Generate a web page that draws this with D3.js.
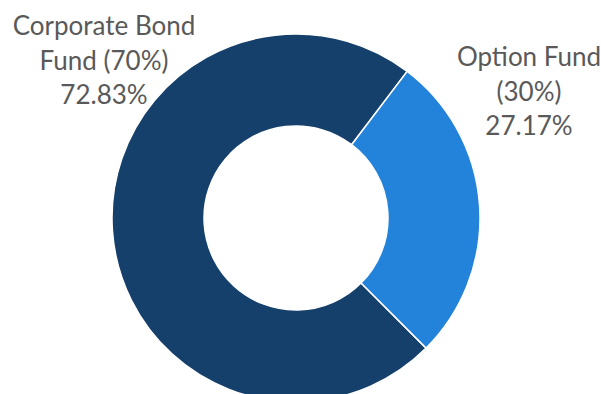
<!DOCTYPE html>
<html>
<head>
<meta charset="utf-8">
<script src="https://cdn.jsdelivr.net/npm/d3@7"></script>
<style>
  body { margin: 0; background: #fff; }
  .lbl { font-family: Lato, "Open Sans", sans-serif; fill: #595959; }
</style>
</head>
<body>
<div id="chart"></div>
<script>
// data
var categories = ["Corporate Bond Fund (70%)", "Option Fund (30%)"];
var shares = [72.83, 27.17];
var labelLines = [
  ["Corporate Bond", "Fund (70%)", "72.83%"],
  ["Option Fund", "(30%)", "27.17%"]
];
var colors = ["#15406b", "#2383da"];

var svgWidth = 601;
var svgHeight = 394;

var cx = 296, cy = 218;
var outerR = 184, innerR = 92;

// label anchor points (center x, first baseline y)
var labelPos = [[104, 35], [529, 66]];
var lineStep = 34.5;

var svg = d3.select("#chart")
  .append("svg")
  .attr("width", svgWidth)
  .attr("height", svgHeight);

var data = categories.map((c, i) => ({ name: c, value: shares[i], lines: labelLines[i] }));

var pie = d3.pie()
  .value(d => d.value)
  .sort(null)
  .startAngle(135 * Math.PI / 180)
  .endAngle(495 * Math.PI / 180);

var arc = d3.arc()
  .innerRadius(innerR)
  .outerRadius(outerR);

var chartGroup = svg.append("g")
  .attr("transform", `translate(${cx}, ${cy})`);

chartGroup.selectAll("path")
  .data(pie(data))
  .enter()
  .append("path")
  .attr("d", arc)
  .attr("fill", (d, i) => colors[i])
  .attr("stroke", "#fff")
  .attr("stroke-width", 1.5);

// data labels
var labels = svg.selectAll("text.lbl")
  .data(data)
  .enter()
  .append("text")
  .classed("lbl", true)
  .attr("text-anchor", "middle")
  .attr("font-size", 26);

labels.each(function(d, i) {
  var t = d3.select(this);
  d.lines.forEach((ln, j) => {
    t.append("tspan")
      .attr("x", labelPos[i][0])
      .attr("y", labelPos[i][1] + j * lineStep)
      .text(ln);
  });
});
</script>
</body>
</html>
